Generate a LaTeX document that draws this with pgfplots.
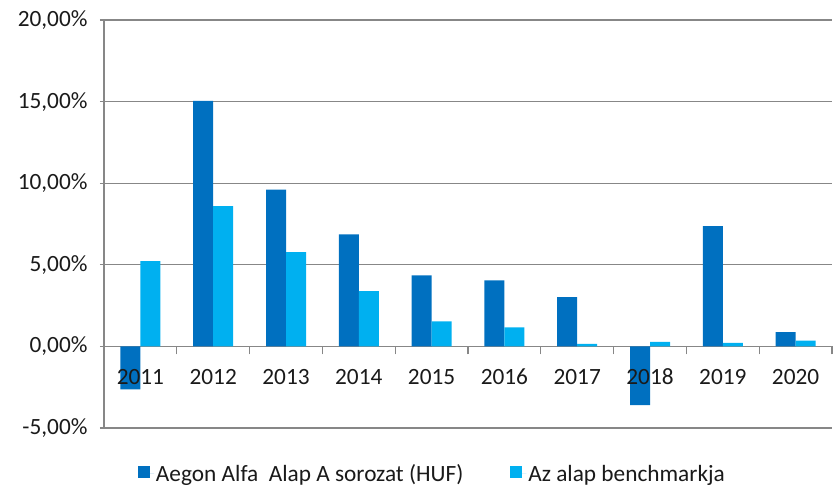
\documentclass[border=0pt]{standalone}
\usepackage{pgfplots}
\pgfplotsset{compat=1.18}
\usepackage{fontspec}
\setmainfont{Carlito}
\definecolor{darkb}{HTML}{0070C0}
\definecolor{lightb}{HTML}{00B0F0}
\definecolor{gridg}{HTML}{878787}
\definecolor{txt}{HTML}{1A1A1A}
\pgfplotsset{
  sqlegend/.style={legend image code/.code={\fill[##1] (0bp,-4bp) rectangle (12bp,8bp); \path (0bp,0bp) -- (16bp,0bp);}},
  base/.style={
    at={(0,0)}, anchor=south west,
    scale only axis, width=728bp, height=408bp,
    xmin=-0.5, xmax=9.5, ymin=-5, ymax=20,
    axis x line=middle,
    tick align=outside,
    major tick length=8bp, minor tick length=8bp,
    major x tick style={draw=none},
    xtick={0,...,9},
    xticklabels={2011,2012,2013,2014,2015,2016,2017,2018,2019,2020},
    xticklabel style={yshift=-11bp},
    every tick label/.append style={font=\fontsize{23.3bp}{28bp}\selectfont, text=txt},
  },
}
\begin{document}
\begin{tikzpicture}
\begin{axis}[
  base,
  ybar=0pt, bar width=20bp,
  axis y line=left,
  axis line style={-, gridg, line width=1.3bp},
  tick style={gridg, line width=1.3bp},
  xticklabel style={text opacity=0},
  minor xtick={-0.5,0.5,...,9.5},
  ytick={-5,0,5,10,15,20},
  yticklabel={\pgfmathprintnumber[fixed,fixed zerofill,precision=2,use comma,assume math mode=true]{\tick}\%},
  ymajorgrids, grid style={gridg, line width=1.3bp},
  yticklabel style={xshift=-9bp},
  legend style={at={(rel axis cs:0.0467,-0.085)}, anchor=north west, draw=none,
    inner sep=0pt, outer sep=0pt,
    font=\fontsize{23.3bp}{28bp}\selectfont, text=txt,
    legend columns=2, /tikz/every even column/.append style={column sep=45bp}},
  legend cell align=left,
]
\addplot[fill=darkb, draw=none, sqlegend] coordinates {(0,-2.63) (1,15.05) (2,9.6) (3,6.87) (4,4.35) (5,4.05) (6,3.02) (7,-3.6) (8,7.37) (9,0.88)};
\addplot[fill=lightb, draw=none, sqlegend] coordinates {(0,5.22) (1,8.6) (2,5.78) (3,3.38) (4,1.53) (5,1.17) (6,0.15) (7,0.28) (8,0.22) (9,0.36)};
\legend{Aegon Alfa\ \ Alap A sorozat (HUF), Az alap benchmarkja}
\end{axis}
\begin{axis}[
  base,
  axis y line=none,
  axis line style={draw=none},
  ytick=\empty,
]
\end{axis}
\pgfresetboundingbox
\path (-104bp,-59bp) rectangle (736bp,428bp);
\end{tikzpicture}
\end{document}
